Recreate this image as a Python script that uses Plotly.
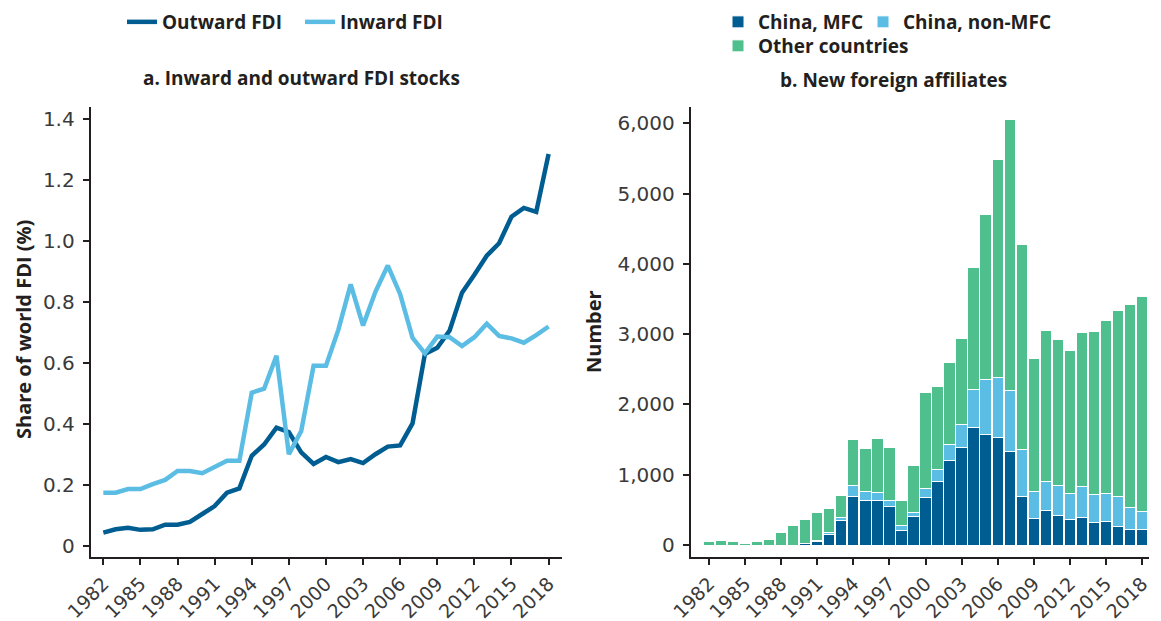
import plotly.graph_objects as go

years = list(range(1982, 2019))

outward_fdi = [0.043, 0.054, 0.059, 0.052, 0.054, 0.069, 0.069, 0.078, 0.104, 0.130,
               0.174, 0.188, 0.295, 0.332, 0.387, 0.373, 0.306, 0.268, 0.291, 0.274,
               0.284, 0.271, 0.300, 0.325, 0.329, 0.401, 0.629, 0.649, 0.706, 0.830,
               0.889, 0.951, 0.992, 1.079, 1.108, 1.095, 1.285]
inward_fdi = [0.174, 0.174, 0.186, 0.186, 0.202, 0.216, 0.245, 0.245, 0.238, 0.260,
              0.279, 0.279, 0.502, 0.515, 0.623, 0.300, 0.376, 0.590, 0.590, 0.708,
              0.857, 0.722, 0.833, 0.919, 0.825, 0.682, 0.631, 0.686, 0.684, 0.655,
              0.684, 0.728, 0.688, 0.680, 0.666, 0.691, 0.719]

china_mfc = [0, 0, 0, 0, 0, 0, 0, 0, 15, 52,
             147, 346, 688, 640, 630, 545, 213, 403, 673, 910,
             1200, 1394, 1678, 1565, 1527, 1328, 688, 379, 488, 417,
             365, 394, 322, 332, 270, 223, 223]
china_non_mfc = [0, 0, 0, 0, 0, 0, 0, 0, 0, 10,
                 28, 48, 156, 118, 120, 95, 62, 62, 124, 167,
                 232, 327, 541, 796, 858, 877, 673, 380, 422, 436,
                 370, 436, 399, 403, 427, 308, 260]
other_countries = [43, 57, 43, 28, 43, 85, 175, 275, 341, 398,
                   346, 308, 664, 612, 767, 744, 365, 669, 1375, 1175,
                   1167, 1219, 1735, 2347, 3101, 3855, 2921, 1901, 2148, 2077,
                   2039, 2195, 2323, 2465, 2636, 2897, 3049]

left_yticks = [0, 0.2, 0.4, 0.6, 0.8, 1.0, 1.2, 1.4]
left_yticktext = ["0", "0.2", "0.4", "0.6", "0.8", "1.0", "1.2", "1.4"]
right_yticks = [0, 1000, 2000, 3000, 4000, 5000, 6000]
right_yticktext = ["0", "1,000", "2,000", "3,000", "4,000", "5,000", "6,000"]

DARK = "#005d91"
LIGHT = "#5bbde4"
GREEN = "#4fbf8e"
INK = "#231f20"
TICK = "#3a3a3a"
FONT = "Open Sans"
TICKFONT = "DejaVu Sans"

# the page body adds an 8px offset; size the figure to fill the window exactly
OFF = 8
W, H = 1161 - OFF, 621 - OFF


def px(x):
    return (x - OFF) / W


def py(y):
    return 1 - (y - OFF) / H


fig = go.Figure()
fig.add_trace(go.Scatter(x=years, y=outward_fdi, name="Outward FDI", mode="lines",
                         line=dict(color=DARK, width=4.5), xaxis="x", yaxis="y",
                         legend="legend", legendwidth=133))
fig.add_trace(go.Scatter(x=years, y=inward_fdi, name="Inward FDI", mode="lines",
                         line=dict(color=LIGHT, width=4.5), xaxis="x", yaxis="y",
                         legend="legend"))
fig.add_trace(go.Bar(x=years, y=china_mfc, name="China, MFC",
                     marker=dict(color=DARK, line=dict(color="white", width=1)),
                     xaxis="x2", yaxis="y2", legend="legend2", legendwidth=100))
fig.add_trace(go.Bar(x=years, y=china_non_mfc, name="China, non-MFC",
                     marker=dict(color=LIGHT, line=dict(color="white", width=1)),
                     xaxis="x2", yaxis="y2", legend="legend2"))
fig.add_trace(go.Bar(x=years, y=other_countries, name="Other countries",
                     marker=dict(color=GREEN, line=dict(color="white", width=1)),
                     xaxis="x2", yaxis="y2", legend="legend3"))

axis_common = dict(showgrid=False, zeroline=False, showline=True, linecolor=INK,
                   linewidth=2, ticks="outside", ticklen=6, tickwidth=2, tickcolor=INK,
                   automargin=False)
yfont = dict(family=TICKFONT, size=20, color=TICK)
xfont = dict(family=TICKFONT, size=19, color=TICK)

legend_font = dict(family=FONT, size=19, color=INK, weight="bold")

fig.update_layout(
    width=W, height=H,
    margin=dict(l=0, r=0, t=0, b=0, autoexpand=False),
    paper_bgcolor="white", plot_bgcolor="white",
    barmode="stack", bargap=0.06,
    font=dict(family=FONT, color=INK),
    xaxis=dict(domain=[px(90.7), px(561.7)], range=[1980.98, 2019.06], anchor="y",
               tickmode="linear", tick0=1982, dtick=3, tickangle=-45, tickfont=xfont,
               **axis_common),
    yaxis=dict(domain=[py(557.3), py(106.7)], range=[-0.038, 1.44], anchor="x",
               tickmode="array", tickvals=left_yticks, ticktext=left_yticktext,
               ticklabelstandoff=4, tickfont=yfont, **axis_common),
    xaxis2=dict(domain=[px(690.7), px(1149)], range=[1980.48, 2018.58], anchor="y2",
                tickmode="linear", tick0=1982, dtick=3, tickangle=-45, tickfont=xfont,
                **axis_common),
    yaxis2=dict(domain=[py(557.3), py(106.7)], range=[-175, 6236], anchor="x2",
                tickmode="array", tickvals=right_yticks, ticktext=right_yticktext,
                ticklabelstandoff=4, tickfont=yfont, **axis_common),
    legend=dict(orientation="h", x=px(122), y=py(3), xanchor="left", yanchor="top",
                font=legend_font, bgcolor="rgba(0,0,0,0)", itemwidth=30),
    legend2=dict(orientation="h", x=px(718), y=py(3), xanchor="left", yanchor="top",
                 font=legend_font, bgcolor="rgba(0,0,0,0)", itemwidth=30,
                 traceorder="normal"),
    legend3=dict(orientation="h", x=px(718), y=py(27), xanchor="left", yanchor="top",
                 font=legend_font, bgcolor="rgba(0,0,0,0)", itemwidth=30,
                 traceorder="normal"),
    showlegend=True,
)

annotations = [
    dict(text="<b>a. Inward and outward FDI stocks</b>", x=px(301), y=py(78),
         xref="paper", yref="paper", showarrow=False, xanchor="center", yanchor="middle",
         font=dict(family=FONT, size=19, color=INK)),
    dict(text="<b>b. New foreign affiliates</b>", x=px(893), y=py(80),
         xref="paper", yref="paper", showarrow=False, xanchor="center", yanchor="middle",
         font=dict(family=FONT, size=19, color=INK)),
    dict(text="<b>Share of world FDI (%)</b>", x=px(23), y=py(330), textangle=-90,
         xref="paper", yref="paper", showarrow=False, xanchor="center", yanchor="middle",
         font=dict(family=FONT, size=20, color=INK)),
    dict(text="<b>Number</b>", x=px(593), y=py(332), textangle=-90,
         xref="paper", yref="paper", showarrow=False, xanchor="center", yanchor="middle",
         font=dict(family=FONT, size=20, color=INK)),
]
fig.update_layout(annotations=annotations)

fig.write_html("out.html")
